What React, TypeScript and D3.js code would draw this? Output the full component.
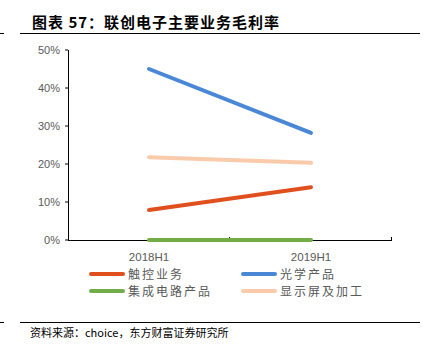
import React from "react";
import * as d3 from "d3";

const categories = ["2018H1", "2019H1"];
const seriesNames = ["触控业务", "光学产品", "集成电路产品", "显示屏及加工"];
const touchValues = [7.9, 13.9];
const opticsValues = [45, 28.2];
const icValues = [0, 0];
const displayValues = [21.8, 20.3];
const yTicks = [0, 10, 20, 30, 40, 50];
const colors = ["#E0501E", "#4A88D6", "#72AE48", "#F9CBAA"];

const title = "图表 57：联创电子主要业务毛利率";
const source = "资料来源：choice，东方财富证券研究所";

export default function App() {
  const W = 425, H = 355;
  const left = 68, right = 392, top = 50, bottom = 240;
  const x = d3.scaleBand().domain(categories).range([left, right]).padding(0);
  const y = d3.scaleLinear().domain([0, 50]).range([bottom, top]);
  const series = [touchValues, opticsValues, icValues, displayValues];
  const line = d3
    .line<number>()
    .x((_, i) => (x(categories[i]) as number) + x.bandwidth() / 2)
    .y((v) => y(v));
  const order = [2, 3, 1, 0];
  const legendPos = [
    { lx: 91, ly: 274 },
    { lx: 243, ly: 274 },
    { lx: 91, ly: 291 },
    { lx: 243, ly: 291 },
  ];
  const font = "'Noto Sans CJK SC', 'Noto Sans', sans-serif";
  return (
    <svg width={W} height={H} style={{ position: "absolute", left: 0, top: 0, background: "#fff" }}>
      <text x={32} y={28} fontFamily={font} fontWeight="bold" fontSize={15} fill="#000" letterSpacing={1}>
        {title}
      </text>
      <line x1={20} x2={420} y1={33.5} y2={33.5} stroke="#000" strokeWidth={1} />
      <line x1={0} x2={4} y1={33.5} y2={33.5} stroke="#000" strokeWidth={1} />
      {yTicks.map((t) => (
        <g key={t}>
          <line x1={left - 3} x2={left} y1={y(t)} y2={y(t)} stroke="#000" />
          <text x={left - 8} y={y(t) + 4} textAnchor="end" fontFamily="'Liberation Sans', Arial, sans-serif" fontSize={11} fill="#595959">
            {t}%
          </text>
        </g>
      ))}
      <line x1={left + 0.5} x2={left + 0.5} y1={top} y2={bottom} stroke="#000" />
      <line x1={left} x2={right} y1={bottom + 0.5} y2={bottom + 0.5} stroke="#000" />
      {[...categories.map((c) => x(c) as number), right].slice(1).map((p, i) => (
        <line key={i} x1={p - 0.5} x2={p - 0.5} y1={bottom - 3} y2={bottom + 0.5} stroke="#000" />
      ))}
      {categories.map((c) => (
        <text key={c} x={(x(c) as number) + x.bandwidth() / 2} y={261} textAnchor="middle" fontFamily="'Liberation Sans', Arial, sans-serif" fontSize={11.5} fill="#595959">
          {c}
        </text>
      ))}
      {order.map((i) => (
        <path key={i} d={line(series[i]) || ""} fill="none" stroke={colors[i]} strokeWidth={4} strokeLinecap="round" />
      ))}
      {seriesNames.map((n, i) => (
        <g key={n}>
          <line x1={legendPos[i].lx} x2={legendPos[i].lx + 32} y1={legendPos[i].ly} y2={legendPos[i].ly} stroke={colors[i]} strokeWidth={4} strokeLinecap="round" />
          <text x={legendPos[i].lx + 37} y={legendPos[i].ly + 4.5} fontFamily={font} fontSize={12} fill="#595959" letterSpacing={2}>
            {n}
          </text>
        </g>
      ))}
      <line x1={20} x2={420} y1={322.5} y2={322.5} stroke="#000" strokeWidth={1} />
      <line x1={0} x2={4} y1={322.5} y2={322.5} stroke="#000" strokeWidth={1} />
      <text x={30} y={337} fontFamily={font} fontSize={11} fill="#000">
        {source}
      </text>
    </svg>
  );
}
